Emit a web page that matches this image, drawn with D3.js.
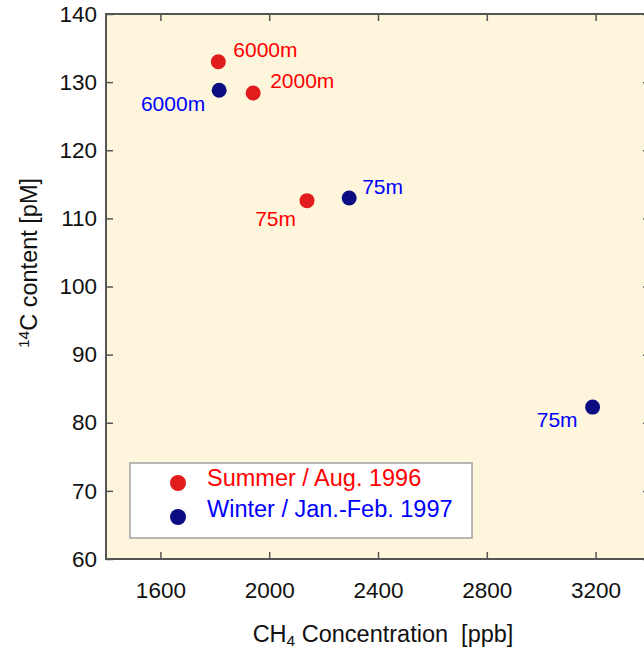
<!DOCTYPE html>
<meta charset="utf-8">
<style>
    body { margin: 0; background: #fff; }
    text { font-family: "Liberation Sans", Arial, sans-serif; }
    .axis path { display: none; }
    .axis line { stroke: #555; stroke-width: 1.5; }
    .axis text { font-size: 22.5px; fill: #111; font-family: "Liberation Sans", Arial, sans-serif; }
</style>
<svg width="644" height="648"></svg>
<script src="https://cdn.jsdelivr.net/npm/d3@7"></script>
<script>

    // x ticks / y ticks
    var xTicks = [1600, 2000, 2400, 2800, 3200];
    var yTicks = [60, 70, 80, 90, 100, 110, 120, 130, 140];

    // summer / aug. 1996
    var summerCH4 = [1813, 1941, 2139];
    var summerC14 = [133.0, 128.4, 112.6];
    var summerDepth = ["6000m", "2000m", "75m"];

    // winter / jan.-feb. 1997
    var winterCH4 = [1816, 2294, 3189];
    var winterC14 = [128.8, 113.0, 82.3];
    var winterDepth = ["6000m", "75m", "75m"];

    var seriesNames = ["Summer / Aug. 1996", "Winter / Jan.-Feb. 1997"];

    // label offsets from the dot: [dx, dy, anchor]
    var summerPlace = [[15, -5, "start"], [17, -5, "start"], [-11, 25, "end"]];
    var winterPlace = [[-14, 21, "end"], [13, -4, "start"], [-15, 20, "end"]];

    var svg = d3.select("svg"),
        mLeft = 106, mTop = 14, mBottom = 559, mRight = 650;

    var x = d3.scaleLinear().domain([1400, 3400]).range([mLeft, mRight]);
    var y = d3.scaleLinear().domain([60, 140]).range([mBottom, mTop]);

    svg.append("rect")
        .attr("x", mLeft).attr("y", mTop)
        .attr("width", mRight - mLeft).attr("height", mBottom - mTop)
        .attr("fill", "#fdf6dc");

    svg.append("g").attr("class", "axis")
        .attr("transform", "translate(0," + mBottom + ")")
        .call(d3.axisBottom(x).tickValues(xTicks).tickSize(-7).tickPadding(23).tickFormat(d3.format("d")));

    svg.append("g").attr("class", "axis")
        .attr("transform", "translate(0," + mTop + ")")
        .call(d3.axisTop(x).tickValues(xTicks).tickSize(-7).tickFormat(""));

    svg.append("g").attr("class", "axis")
        .attr("transform", "translate(" + mLeft + ",0)")
        .call(d3.axisLeft(y).tickValues(yTicks).tickSize(-7).tickPadding(9));

    svg.append("g").attr("class", "axis")
        .attr("transform", "translate(" + mRight + ",0)")
        .call(d3.axisRight(y).tickValues(yTicks).tickSize(-7).tickFormat(""));

    // frame
    svg.append("rect")
        .attr("x", mLeft).attr("y", mTop)
        .attr("width", mRight - mLeft).attr("height", mBottom - mTop)
        .attr("fill", "none").attr("stroke", "#555").attr("stroke-width", 2);

    function drawSeries(xs, ys, names, place, dotColor, textColor) {
        var pts = xs.map(function(v, i) { return {x: v, y: ys[i], name: names[i], p: place[i]}; });
        svg.selectAll(null).data(pts).enter().append("circle")
            .attr("cx", function(d) { return x(d.x); })
            .attr("cy", function(d) { return y(d.y); })
            .attr("r", 7.5)
            .attr("fill", dotColor);
        svg.selectAll(null).data(pts).enter().append("text")
            .attr("x", function(d) { return x(d.x) + d.p[0]; })
            .attr("y", function(d) { return y(d.y) + d.p[1]; })
            .attr("text-anchor", function(d) { return d.p[2]; })
            .attr("font-size", 21)
            .attr("fill", textColor)
            .text(function(d) { return d.name; });
    }

    drawSeries(summerCH4, summerC14, summerDepth, summerPlace, "#e01c1c", "#ff0000");
    drawSeries(winterCH4, winterC14, winterDepth, winterPlace, "#0c0c82", "#0000ff");

    // legend
    var lg = svg.append("g");
    lg.append("rect")
        .attr("x", 130).attr("y", 463).attr("width", 342).attr("height", 75)
        .attr("fill", "#fff").attr("stroke", "#a0a0a0").attr("stroke-width", 1.5);
    var legendColors = [["#e01c1c", "#ff0000"], ["#0c0c82", "#0000ff"]];
    seriesNames.forEach(function(n, i) {
        lg.append("circle").attr("cx", 178).attr("cy", 483 + i * 34).attr("r", 8)
            .attr("fill", legendColors[i][0]);
        lg.append("text").attr("x", 207).attr("y", 486 + i * 31)
            .attr("font-size", 23.5).attr("fill", legendColors[i][1]).text(n);
    });

    // axis titles
    var xt = svg.append("text")
        .attr("x", 383).attr("y", 642)
        .attr("text-anchor", "middle")
        .attr("font-size", 23.5).attr("fill", "#111");
    xt.append("tspan").text("CH");
    xt.append("tspan").attr("font-size", 15.5).attr("dy", 4).text("4");
    xt.append("tspan").attr("dy", -4).text(" Concentration\u00a0\u00a0[ppb]");

    var yt = svg.append("text")
        .attr("transform", "translate(37,263)rotate(-90)")
        .attr("text-anchor", "middle")
        .attr("font-size", 23.5).attr("fill", "#111");
    yt.append("tspan").attr("font-size", 15.5).attr("dy", -8).text("14");
    yt.append("tspan").attr("dy", 8).text("C content [pM]");

</script>
